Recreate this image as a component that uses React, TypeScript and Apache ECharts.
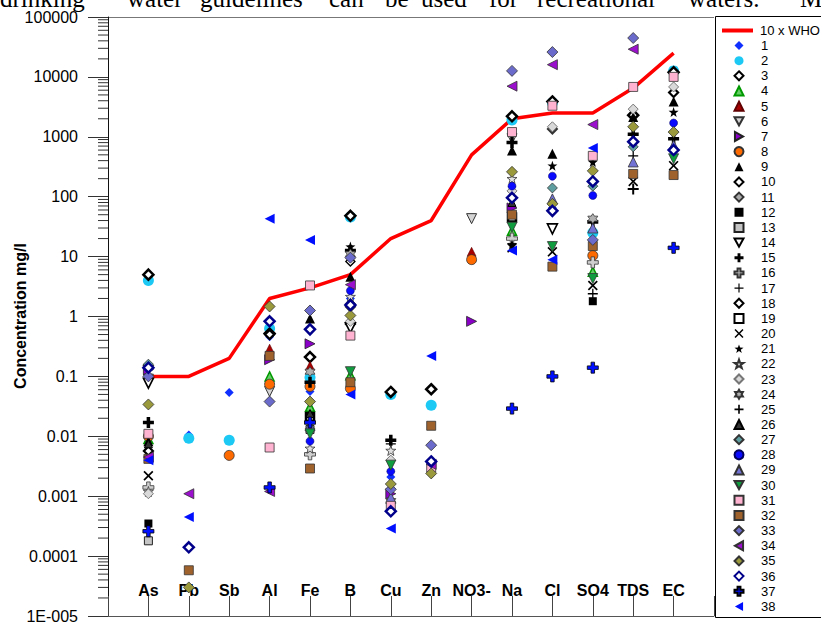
import React, { useEffect, useRef } from "react";
import * as echarts from "echarts";

// Parameters along the x axis
const CATEGORIES = ["As", "Pb", "Sb", "Al", "Fe", "B", "Cu", "Zn", "NO3-", "Na", "Cl", "SO4", "TDS", "EC"];

// Ten times the WHO drinking-water guideline, mg/l
const WHO_X10 = [0.1, 0.1, 0.2, 2, 3, 5, 20, 40, 500, 2000, 2500, 2500, 6500, 25000];
const WHO_NAME = "10 x WHO";

// Log-axis tick labels from 1E-005 up to 100000
const Y_TICK_LABELS = ["1E-005", "0.0001", "0.001", "0.01", "0.1", "1", "10", "100", "1000", "10000", "100000"];

// Sample concentrations, ordered as CATEGORIES (null = not measured)
const S01 = [4.6, 0.0105, 0.054, 0.46, 0.056, 2.0, 0.0021, null, null, null, 65, null, null, null];
const S02 = [4.0, 0.0093, 0.0086, 0.63, 0.096, 46, 0.05, 0.033, null, 1900, 3700, 25, null, 12600];
const S03 = [5.0, null, null, 0.52, 0.21, 48, 0.055, 0.061, null, 2200, 3900, null, 2300, 12000];
const S04 = [0.009, null, null, 0.1, 0.031, 0.105, null, null, null, 27, null, 5.6, null, null];
const S05 = [null, null, null, 0.29, 0.15, null, null, null, 12, null, null, null, null, null];
const S06 = [0.09, null, null, 0.056, null, null, null, null, 43, 930, null, null, null, null];
const S07 = [0.13, null, null, 0.19, 0.35, null, 0.0011, null, 0.83, 65, null, null, null, null];
const S08 = [0.01, null, 0.0048, 0.074, 0.068, 0.063, null, null, 8.9, null, null, 10.4, null, null];
const S09 = [0.0083, null, null, null, 0.93, 4.6, null, null, null, 590, 520, null, 2150, 3900];
const S10 = [0.0057, null, null, 0.5, null, 0.75, null, null, null, null, null, null, null, 5500];
const S11 = [0.15, null, null, null, null, 1.45, null, null, null, null, 1350, null, null, null];
const S12 = [0.00035, null, null, null, 0.02, null, null, null, null, null, null, 1.8, null, null];
const S13 = [0.00018, null, null, null, 0.013, null, null, null, null, null, null, null, null, null];
const S14 = [0.077, null, null, null, null, 0.65, null, null, null, null, 29, null, null, null];
const S15 = [0.017, null, null, null, 0.08, 12.6, 0.0086, null, null, 800, null, 38, 1100, 930];
const S16 = [0.0014, null, null, null, 0.005, null, null, null, null, 20, null, 8, null, null];
const S17 = [null, null, null, null, 0.019, null, 0.0075, null, null, null, null, 2.4, 480, null];
const S18 = [null, null, null, null, null, 8.3, null, null, null, null, null, null, null, null];
const S19 = [null, null, null, null, 0.021, null, null, null, null, 45, null, null, null, null];
const S20 = [0.0022, null, null, null, null, null, null, null, null, 14, 12, 3.3, 180, 330];
const S21 = [null, null, null, null, null, 14.7, null, null, null, 16, 330, 380, null, 2600];
const S22 = [0.0012, null, null, null, 0.0063, 2.15, 0.0058, null, null, 200, null, null, null, null];
const S23 = [0.0011, null, null, null, null, 0.83, 0.004, null, null, 125, 1470, null, 2900, 6800];
const S24 = [null, null, null, null, 0.12, 11, 0.00083, null, null, null, null, 43, null, null];
const S25 = [null, null, null, null, null, null, null, null, null, null, null, null, 135, null];
const S26 = [0.0075, null, null, null, 0.024, null, null, null, null, 80, null, null, null, null];
const S27 = [0.16, null, null, null, null, 1.65, null, null, null, null, 140, 150, 680, null];
const S28 = [null, null, null, null, 0.0083, 2.7, 0.0026, null, null, 150, 220, 105, null, 1700];
const S29 = [null, null, null, null, 0.015, null, 0.00095, null, null, null, 92, 30, 380, 720];
const S30 = [null, null, null, null, 0.011, 0.12, 0.0033, null, null, 31, 14.7, 4.3, null, 430];
const S31 = [0.011, null, null, 0.0065, 3.3, 0.48, 0.00069, 0.003, null, 1200, 3300, 480, 6800, 10000];
const S32 = [0.0042, 0.000058, null, 0.22, 0.0029, 0.08, null, 0.015, null, 50, 6.8, 15, 240, 230];
const S33 = [0.1, null, null, 0.038, 1.26, 9.6, 0.0013, 0.0071, null, 12600, 26000, 19, 44600, null];
const S34 = [0.0045, 0.0011, null, 0.0012, null, 3.4, null, 0.0034, null, 7000, 16000, 1600, 29000, null];
const S35 = [0.034, 0.00003, null, 1.47, 0.038, 1.04, 0.0016, 0.0024, null, 260, 76, 270, 1470, 1200];
const S36 = [0.14, 0.00014, null, 0.83, 0.61, 1.55, 0.00056, 0.0038, null, 96, 58, 180, 830, 600];
const S37 = [0.00026, null, null, 0.0014, 0.017, null, null, null, null, 0.029, 0.1, 0.14, null, 14];
const S38 = [0.004, 0.00045, null, 43, 19, 0.05, 0.00029, 0.22, null, 12.6, 8.9, 650, null, null];

const SAMPLES = [
  S01, S02, S03, S04, S05, S06, S07, S08, S09, S10, S11, S12, S13, S14, S15, S16, S17, S18, S19,
  S20, S21, S22, S23, S24, S25, S26, S27, S28, S29, S30, S31, S32, S33, S34, S35, S36, S37, S38,
];

// Marker outlines
const PLUS_THICK = "path://M3.4,0H6.6V3.4H10V6.6H6.6V10H3.4V6.6H0V3.4H3.4Z";
const PLUS_MED = "path://M4.1,0H5.9V4.1H10V5.9H5.9V10H4.1V5.9H0V4.1H4.1Z";
const PLUS_THIN = "path://M4.35,0H5.65V4.35H10V5.65H5.65V10H4.35V5.65H0V4.35H4.35Z";
const CROSS_X = "path://M0,1.2L1.2,0L5,3.8L8.8,0L10,1.2L6.2,5L10,8.8L8.8,10L5,6.2L1.2,10L0,8.8L3.8,5Z";
const TRI_DOWN = "path://M0,0H10L5,9Z";
const TRI_LEFT = "path://M9,0V10L0,5Z";
const TRI_RIGHT = "path://M0,0V10L9,5Z";
const STAR5 =
  "path://M5,0L6.176,3.382L9.755,3.455L6.902,5.618L7.939,9.045L5,7L2.061,9.045L3.098,5.618L0.245,3.455L3.824,3.382Z";
const HEXAGRAM =
  "path://M5,0L6.443,2.5L9.33,2.5L7.887,5L9.33,7.5L6.443,7.5L5,10L3.557,7.5L0.67,7.5L2.113,5L0.67,2.5L3.557,2.5Z";

type Marker = { symbol: string; size: number; color: string; border?: string; bw?: number };

const MARKERS: Marker[] = [
  { symbol: "diamond", size: 9, color: "#1030ff" },
  { symbol: "circle", size: 11, color: "#1cc8f4" },
  { symbol: "diamond", size: 10, color: "#ffffff", border: "#000000", bw: 2.5 },
  { symbol: "triangle", size: 9, color: "#66cc66", border: "#009900", bw: 1.5 },
  { symbol: "triangle", size: 9, color: "#a80000", border: "#600000", bw: 0.6 },
  { symbol: TRI_DOWN, size: 10, color: "#d4d4d4", border: "#333333", bw: 1 },
  { symbol: TRI_RIGHT, size: 10, color: "#8a00c8", border: "#222222", bw: 0.8 },
  { symbol: "circle", size: 10, color: "#ff6a00", border: "#333333", bw: 0.8 },
  { symbol: "triangle", size: 10, color: "#000000" },
  { symbol: "diamond", size: 9, color: "#ffffff", border: "#000000", bw: 2.2 },
  { symbol: "diamond", size: 9, color: "#aaaaaa", border: "#333333", bw: 2 },
  { symbol: "rect", size: 8, color: "#000000" },
  { symbol: "rect", size: 8, color: "#c4c4c4", border: "#222222", bw: 1 },
  { symbol: TRI_DOWN, size: 10, color: "#ffffff", border: "#000000", bw: 1.6 },
  { symbol: PLUS_THICK, size: 11, color: "#000000" },
  { symbol: PLUS_THICK, size: 11, color: "#cfcfcf", border: "#333333", bw: 0.8 },
  { symbol: PLUS_THIN, size: 10, color: "#000000" },
  { symbol: "diamond", size: 9, color: "#ffffff", border: "#000000", bw: 1.4 },
  { symbol: "rect", size: 8, color: "#ffffff", border: "#000000", bw: 2.5 },
  { symbol: CROSS_X, size: 10, color: "#000000" },
  { symbol: STAR5, size: 10, color: "#000000" },
  { symbol: STAR5, size: 10, color: "#e0e0e0", border: "#333333", bw: 0.8 },
  { symbol: "diamond", size: 10, color: "#d9d9d9", border: "#777777", bw: 1 },
  { symbol: HEXAGRAM, size: 10, color: "#b0b0b0", border: "#333333", bw: 0.8 },
  { symbol: PLUS_MED, size: 11, color: "#000000" },
  { symbol: "triangle", size: 8, color: "#333333", border: "#000000", bw: 1 },
  { symbol: "diamond", size: 10, color: "#5f9ea0", border: "#333333", bw: 0.8 },
  { symbol: "circle", size: 8, color: "#0a0aff", border: "#000060", bw: 0.5 },
  { symbol: "triangle", size: 10, color: "#7272d4", border: "#333333", bw: 0.8 },
  { symbol: TRI_DOWN, size: 10, color: "#0f9d3f", border: "#333333", bw: 0.8 },
  { symbol: "rect", size: 9, color: "#ffb3d1", border: "#333333", bw: 0.8 },
  { symbol: "rect", size: 9, color: "#a0622d", border: "#333333", bw: 0.8 },
  { symbol: "diamond", size: 11, color: "#6b6bcc", border: "#333333", bw: 0.8 },
  { symbol: TRI_LEFT, size: 10, color: "#9b10cc", border: "#333333", bw: 0.8 },
  { symbol: "diamond", size: 11, color: "#9a9a3c", border: "#333333", bw: 0.8 },
  { symbol: "diamond", size: 10, color: "#ffffff", border: "#00008b", bw: 2.5 },
  { symbol: PLUS_THICK, size: 11, color: "#0010ff", border: "#000000", bw: 0.8 },
  { symbol: TRI_LEFT, size: 10, color: "#0010ff" },
];

const FONT = 'Arial, "Liberation Sans", sans-serif';
const SERIF = '"Times New Roman", "Liberation Serif", serif';

// Words of the running text line above the chart, with their left edges
const HEADER_WORDS: [string, number][] = [
  ["drinking", 0], ["water", 127], ["guidelines", 200], ["can", 329], ["be", 385],
  ["used", 421], ["for", 489], ["recreational", 537], ["waters.", 688], ["M", 800],
];

export default function App() {
  const ref = useRef<HTMLDivElement>(null);

  useEffect(() => {
    if (!ref.current) return;
    const chart = echarts.init(ref.current, null, { renderer: "svg" });

    const axisCats = ["", ...CATEGORIES, ""];
    const toPoints = (vals: (number | null)[]) =>
      vals.map((v, i) => (v == null ? null : [i + 1, v])).filter((p) => p !== null);

    // minor log ticks at 2..9 of every decade
    const minorTicks: number[][] = [];
    for (let e = -5; e < 5; e++) {
      for (let m = 2; m <= 9; m++) minorTicks.push([0, m * Math.pow(10, e)]);
    }

    const scatterSeries = SAMPLES.map((vals, k) => {
      const mk = MARKERS[k];
      return {
        name: String(k + 1),
        type: "scatter",
        data: toPoints(vals),
        symbol: mk.symbol,
        symbolSize: mk.size,
        itemStyle: {
          color: mk.color,
          borderColor: mk.border || mk.color,
          borderWidth: mk.bw || 0,
          opacity: 1,
        },
        z: 3,
      };
    });

    const option: any = {
      animation: false,
      backgroundColor: "#ffffff",
      grid: { left: 108, right: 107, top: 17, bottom: 6, containLabel: false },
      xAxis: {
        type: "category",
        data: axisCats,
        boundaryGap: false,
        axisLine: { show: true, lineStyle: { color: "#555555", width: 1 } },
        axisTick: { show: true, inside: true, length: 20, interval: 0, lineStyle: { color: "#444444" } },
        axisLabel: {
          inside: true,
          interval: 0,
          margin: 18,
          color: "#000000",
          fontFamily: FONT,
          fontSize: 16,
          fontWeight: "bold",
        },
        splitLine: { show: false },
      },
      yAxis: {
        type: "log",
        logBase: 10,
        min: 1e-5,
        max: 1e5,
        interval: 1,
        axisLine: { show: true, lineStyle: { color: "#111111", width: 1 } },
        axisTick: { show: true, inside: false, length: 20, lineStyle: { color: "#333333" } },
        axisLabel: {
          margin: 30,
          color: "#000000",
          fontFamily: FONT,
          fontSize: 16,
          formatter: (v: number) => {
            const e = Math.round(Math.log10(v));
            return Y_TICK_LABELS[e + 5] ?? "";
          },
        },
        splitLine: { show: false },
      },
      legend: {
        orient: "vertical",
        left: 733.5,
        top: 38,
        padding: 0,
        itemWidth: 9,
        itemHeight: 9,
        itemGap: 0.16,
        selectedMode: false,
        textStyle: {
          fontFamily: FONT,
          fontSize: 13,
          color: "#000000",
          lineHeight: 15,
          padding: [0, 0, 0, 12.5],
        },
        data: SAMPLES.map((_, k) => String(k + 1)),
      },
      series: [
        {
          type: "custom",
          silent: true,
          clip: false,
          z: 1,
          data: minorTicks,
          renderItem: (_params: any, api: any) => {
            const p = api.coord([0, api.value(1)]);
            return {
              type: "line",
              shape: { x1: p[0] - 10, y1: p[1], x2: p[0], y2: p[1] },
              style: { stroke: "#333333", lineWidth: 1 },
            };
          },
        },
        {
          name: WHO_NAME,
          type: "line",
          data: WHO_X10.map((v, i) => [i + 1, v]),
          symbol: "none",
          lineStyle: { color: "#ff0000", width: 3.5 },
          itemStyle: { color: "#ff0000" },
          z: 2,
        },
        ...scatterSeries,
      ],
      graphic: [
        {
          type: "line",
          silent: true,
          shape: { x1: 88, y1: 17.5, x2: 714, y2: 17.5 },
          style: { stroke: "#777777", lineWidth: 1 },
        },
        {
          type: "rect",
          silent: true,
          shape: { x: 715.5, y: 16.5, width: 120, height: 601 },
          style: { stroke: "#000000", fill: "none", lineWidth: 1 },
        },
        // legend entry for the guideline line
        {
          type: "line",
          silent: true,
          shape: { x1: 722, y1: 30.5, x2: 753, y2: 30.5 },
          style: { stroke: "#ff0000", lineWidth: 4 },
        },
        {
          type: "text",
          silent: true,
          x: 760,
          y: 30.5,
          style: {
            text: WHO_NAME,
            fontFamily: FONT,
            fontSize: 13,
            fill: "#000000",
            align: "left",
            verticalAlign: "middle",
          },
        },
        {
          type: "text",
          silent: true,
          x: 20,
          y: 316,
          rotation: Math.PI / 2,
          style: {
            text: "Concentration mg/l",
            fontFamily: FONT,
            fontSize: 16,
            fontWeight: "bold",
            fill: "#000000",
            align: "center",
            verticalAlign: "middle",
          },
        },
        ...HEADER_WORDS.map(([w, x]) => ({
          type: "text",
          silent: true,
          x,
          y: -2,
          style: {
            text: w,
            fontFamily: SERIF,
            fontSize: 25,
            fill: "#000000",
            align: "left",
            verticalAlign: "middle",
          },
        })),
      ],
    };

    chart.setOption(option);
    return () => chart.dispose();
  }, []);

  return (
    <div
      ref={ref}
      style={{ position: "fixed", left: 0, top: 0, width: 821, height: 624, background: "#ffffff" }}
    />
  );
}
